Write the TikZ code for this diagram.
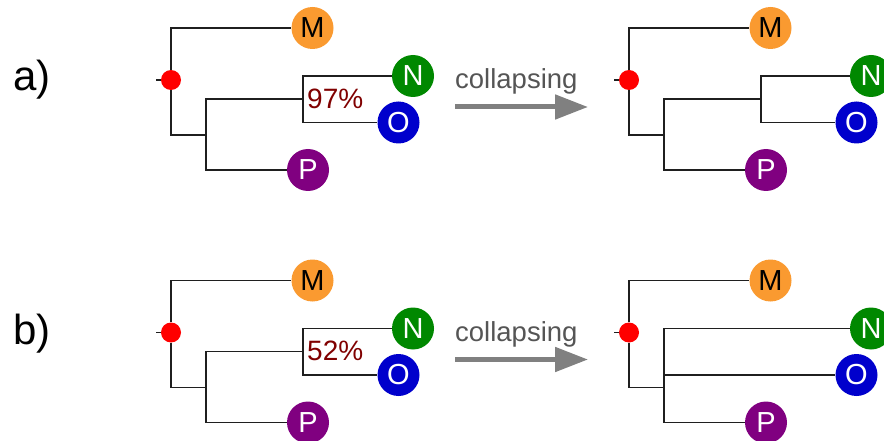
\documentclass[tikz,border=0pt]{standalone}
\usepackage{fontspec}
\setmainfont{Liberation Sans}
\usetikzlibrary{arrows.meta}
\definecolor{cM}{RGB}{250,154,48}
\definecolor{cN}{RGB}{0,136,0}
\definecolor{cO}{RGB}{0,0,204}
\definecolor{cP}{RGB}{128,0,128}
\definecolor{cPct}{RGB}{128,0,0}
\definecolor{cTxt}{RGB}{85,85,85}
\definecolor{cArr}{RGB}{128,128,128}
\tikzset{
  leaf/.style={circle,minimum size=42pt,inner sep=0pt,font=\fontsize{29}{31}\selectfont},
  rootdot/.style={circle,fill=red,minimum size=20pt,inner sep=0pt},
  branch/.style={line width=1.6pt,color=black!88},
  pct/.style={anchor=west,inner sep=0pt,text=cPct,font=\fontsize{28}{30}\selectfont},
  collapse/.style={anchor=base west,inner sep=0pt,text=cTxt,font=\fontsize{27.5}{29}\selectfont},
  bigarrow/.style={line width=5pt,color=cArr,-{Triangle[length=33pt,width=24pt]}},
  panel/.style={anchor=base west,inner sep=0pt,font=\fontsize{42}{44}\selectfont}
}
\begin{document}
\begin{tikzpicture}[x=1pt,y=-1pt]
\useasboundingbox (0,0) rectangle (884,441);
% labels
\node[panel] (la) at (13,91) {a)};
\node[panel] (lb) at (13,344) {b)};
% ---------- top left ----------
\begin{scope}[name prefix=A-]
  \node[rootdot] (r) at (171,80) {};
  \coordinate (s) at (156,80);
  \coordinate (u) at (206,135);
  \coordinate (v) at (303,99);
  \node[leaf,fill=cM,text=black] (M) at (312.5,28) {M};
  \node[leaf,fill=cN,text=white] (N) at (413,76) {N};
  \node[leaf,fill=cO,text=white] (O) at (398.5,122.5) {O};
  \node[leaf,fill=cP,text=white] (P) at (308,170) {P};
  \draw[branch] (s) -- (r.west);
  \draw[branch] (r.north) |- (M.west);
  \draw[branch] (r.south) |- (u);
  \draw[branch] (u) |- (P.west);
  \draw[branch] (u) |- (v);
  \draw[branch] (v) |- (N.west);
  \draw[branch] (v) |- (O.west);
  \node[pct] (t) at (307,99) {97\%};
\end{scope}
% ---------- top arrow ----------
\node[collapse] (c1) at (455,89) {collapsing};
\coordinate (a1s) at (455,107);
\coordinate (a1e) at (588,107);
\draw[bigarrow] (a1s) -- (a1e);
% ---------- top right ----------
\begin{scope}[name prefix=B-]
  \node[rootdot] (r) at (629,80) {};
  \coordinate (s) at (614,80);
  \coordinate (u) at (664,135);
  \coordinate (v) at (761,99);
  \node[leaf,fill=cM,text=black] (M) at (770.5,28) {M};
  \node[leaf,fill=cN,text=white] (N) at (871,76) {N};
  \node[leaf,fill=cO,text=white] (O) at (856.5,122.5) {O};
  \node[leaf,fill=cP,text=white] (P) at (766,170) {P};
  \draw[branch] (s) -- (r.west);
  \draw[branch] (r.north) |- (M.west);
  \draw[branch] (r.south) |- (u);
  \draw[branch] (u) |- (P.west);
  \draw[branch] (u) |- (v);
  \draw[branch] (v) |- (N.west);
  \draw[branch] (v) |- (O.west);
\end{scope}
% ---------- bottom left ----------
\begin{scope}[name prefix=C-]
  \node[rootdot] (r) at (171,332.5) {};
  \coordinate (s) at (156,332.5);
  \coordinate (u) at (206,387.5);
  \coordinate (v) at (303,351.5);
  \node[leaf,fill=cM,text=black] (M) at (312.5,280.5) {M};
  \node[leaf,fill=cN,text=white] (N) at (413,328.5) {N};
  \node[leaf,fill=cO,text=white] (O) at (398.5,375) {O};
  \node[leaf,fill=cP,text=white] (P) at (308,422.5) {P};
  \draw[branch] (s) -- (r.west);
  \draw[branch] (r.north) |- (M.west);
  \draw[branch] (r.south) |- (u);
  \draw[branch] (u) |- (P.west);
  \draw[branch] (u) |- (v);
  \draw[branch] (v) |- (N.west);
  \draw[branch] (v) |- (O.west);
  \node[pct] (t) at (307,351) {52\%};
\end{scope}
% ---------- bottom arrow ----------
\node[collapse] (c2) at (455,341.5) {collapsing};
\coordinate (a2s) at (455,359.5);
\coordinate (a2e) at (588,359.5);
\draw[bigarrow] (a2s) -- (a2e);
% ---------- bottom right ----------
\begin{scope}[name prefix=D-]
  \node[rootdot] (r) at (629,332.5) {};
  \coordinate (s) at (614,332.5);
  \coordinate (u) at (664,387.5);
  \node[leaf,fill=cM,text=black] (M) at (770.5,280.5) {M};
  \node[leaf,fill=cN,text=white] (N) at (871,328.5) {N};
  \node[leaf,fill=cO,text=white] (O) at (856.5,375) {O};
  \node[leaf,fill=cP,text=white] (P) at (766,422.5) {P};
  \draw[branch] (s) -- (r.west);
  \draw[branch] (r.north) |- (M.west);
  \draw[branch] (r.south) |- (u);
  \draw[branch] (u) |- (P.west);
  \draw[branch] (u) |- (N.west);
  \draw[branch] (u) |- (O.west);
\end{scope}
\end{tikzpicture}
\end{document}
